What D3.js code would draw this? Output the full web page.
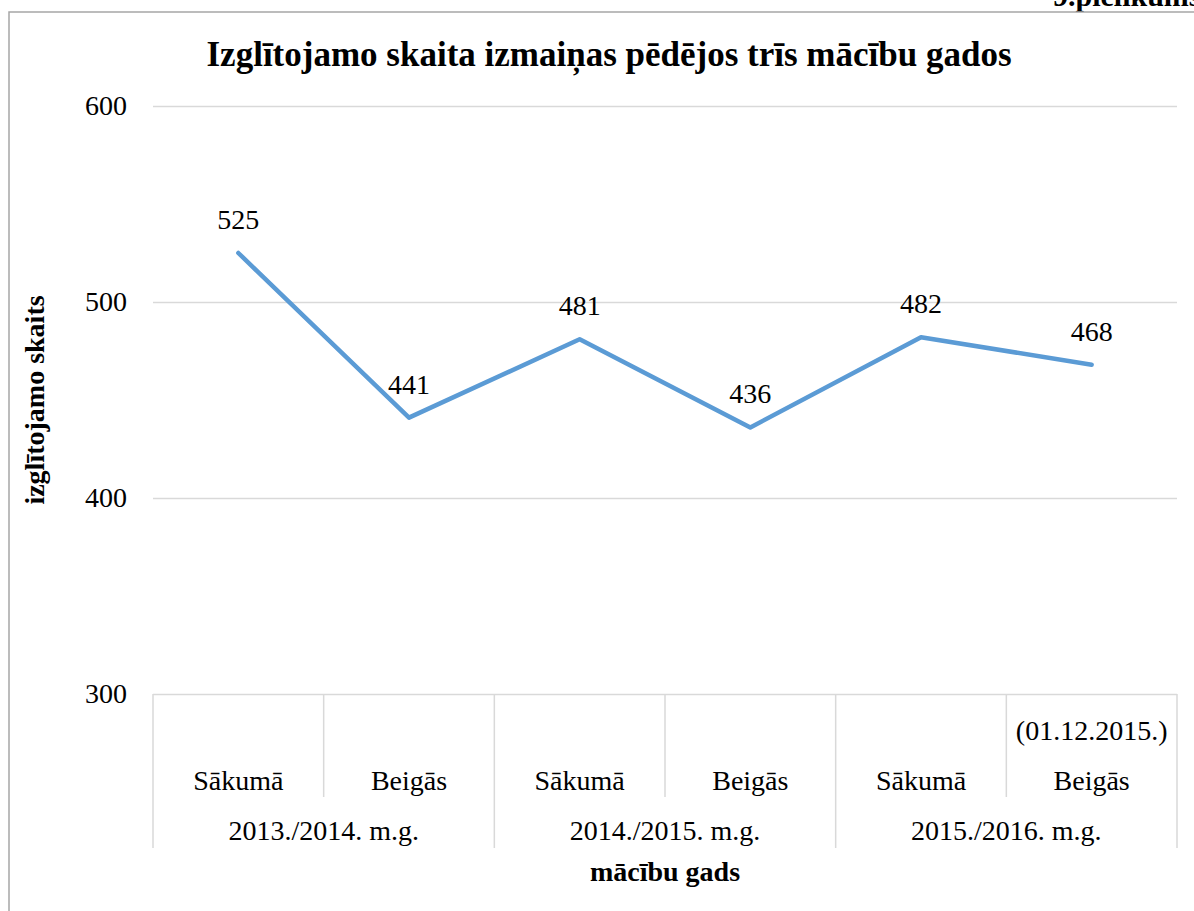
<!DOCTYPE html>
<html>
<head>
<meta charset="utf-8">
<script src="https://cdn.jsdelivr.net/npm/d3@7"></script>
<style>
  body { margin: 0; background: #fff; }
  svg text { font-family: "Liberation Serif", "Times New Roman", serif; fill: #000; }
</style>
</head>
<body>
<svg id="chart" width="1194" height="911"></svg>
<script>
const years = ["2013./2014. m.g.", "2014./2015. m.g.", "2015./2016. m.g."];
const phases = ["Sākumā", "Beigās"];
const notes = ["", "", "", "", "", "(01.12.2015.)"];
const values = [525, 441, 481, 436, 482, 468];
const yTicks = [300, 400, 500, 600];

const width = 1194, height = 911;
const margin = { top: 106, right: 17, bottom: 217, left: 153 };
const fs = 28;

const cats = d3.range(values.length);
const svg = d3.select("#chart");

// page header, cut off at the right edge like in the document
svg.append("text").attr("x", 1053).attr("y", 6)
  .attr("font-size", 30).attr("font-weight", "bold").text("9.pielikums");

// chart frame
svg.append("path").attr("d", `M9,${height} V12 H${width}`)
  .attr("fill", "none").attr("stroke", "#a6a6a6").attr("stroke-width", 1.5);

let x = d3.scaleBand().domain(cats).range([margin.left, width - margin.right]).padding(0);
let y = d3.scaleLinear().domain([300, 600]).range([height - margin.bottom, margin.top]);

// gridlines + y labels
let yAxis = g => g.attr("transform", `translate(${margin.left},0)`)
  .call(d3.axisLeft(y).tickValues(yTicks).tickSize(-(width - margin.left - margin.right)).tickPadding(26))
  .call(g => g.select(".domain").remove())
  .call(g => g.selectAll(".tick line").attr("stroke", "#d9d9d9").attr("stroke-width", 1.5))
  .call(g => g.selectAll(".tick text").attr("font-size", fs));
svg.append("g").call(yAxis);

// category table lines
const base = y(300);
const tableLines = d3.range(values.length + 1).map(i => ({
  x: i < values.length ? x(i) : x(values.length - 1) + x.bandwidth(),
  long: i % phases.length === 0
}));
svg.append("g").selectAll("line").data(tableLines).join("line")
  .attr("x1", d => d.x).attr("x2", d => d.x)
  .attr("y1", base).attr("y2", d => d.long ? base + 154 : base + 103)
  .attr("stroke", "#d9d9d9").attr("stroke-width", 1.5);

// phase labels
svg.append("g").selectAll("text").data(cats).join("text")
  .attr("x", d => x(d) + x.bandwidth() / 2).attr("y", base + 96)
  .attr("text-anchor", "middle").attr("font-size", fs)
  .text(d => phases[d % phases.length]);

// notes
svg.append("g").selectAll("text").data(cats.filter(d => notes[d])).join("text")
  .attr("x", d => x(d) + x.bandwidth() / 2).attr("y", base + 46)
  .attr("text-anchor", "middle").attr("font-size", fs)
  .text(d => notes[d]);

// year labels
svg.append("g").selectAll("text").data(years).join("text")
  .attr("x", (d, i) => x(i * phases.length) + x.bandwidth() * phases.length / 2).attr("y", base + 146)
  .attr("text-anchor", "middle").attr("font-size", fs)
  .text(d => d);

// line
const line = d3.line().x(d => x(d) + x.bandwidth() / 2).y(d => y(values[d]));
svg.append("path").datum(cats).attr("d", line)
  .attr("fill", "none").attr("stroke", "#5b9bd5").attr("stroke-width", 4.5)
  .attr("stroke-linejoin", "round").attr("stroke-linecap", "round");

// data labels
svg.append("g").selectAll("text").data(cats).join("text")
  .attr("x", d => x(d) + x.bandwidth() / 2).attr("y", d => y(values[d]) - 24)
  .attr("text-anchor", "middle").attr("font-size", fs)
  .text(d => values[d]);

// title
svg.append("text").attr("x", 609).attr("y", 66).attr("text-anchor", "middle")
  .attr("font-size", 35).attr("font-weight", "bold")
  .text("Izglītojamo skaita izmaiņas pēdējos trīs mācību gados");

// axis titles
svg.append("text").attr("x", 665).attr("y", 881).attr("text-anchor", "middle")
  .attr("font-size", 28).attr("font-weight", "bold").text("mācību gads");
svg.append("text").attr("transform", `translate(44,${y(450)}) rotate(-90)`)
  .attr("text-anchor", "middle").attr("font-size", 28).attr("font-weight", "bold")
  .text("izglītojamo skaits");
</script>
</body>
</html>
